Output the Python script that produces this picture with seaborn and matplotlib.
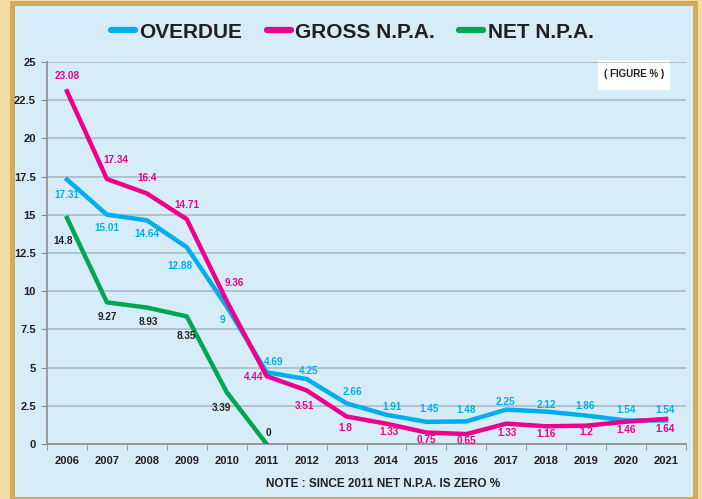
import matplotlib
matplotlib.use("Agg")
import matplotlib.pyplot as plt
from matplotlib.patches import Rectangle
from matplotlib.ticker import FixedLocator
from matplotlib.lines import Line2D
import seaborn as sns
import pandas as pd

years = ["2006", "2007", "2008", "2009", "2010", "2011", "2012", "2013", "2014",
         "2015", "2016", "2017", "2018", "2019", "2020", "2021"]
overdue = [17.31, 15.01, 14.64, 12.88, 9, 4.69, 4.25, 2.66, 1.91, 1.45, 1.48,
           2.25, 2.12, 1.86, 1.54, 1.54]
gross_npa = [23.08, 17.34, 16.4, 14.71, 9.36, 4.44, 3.51, 1.8, 1.33, 0.75, 0.65,
             1.33, 1.16, 1.2, 1.46, 1.64]
net_years = ["2006", "2007", "2008", "2009", "2010", "2011"]
net_npa = [14.8, 9.27, 8.93, 8.35, 3.39, 0]
series_names = ["OVERDUE", "GROSS N.P.A.", "NET N.P.A."]
y_ticks = [0, 2.5, 5, 7.5, 10, 12.5, 15, 17.5, 20, 22.5, 25]
note_text = "NOTE : SINCE 2011 NET N.P.A. IS ZERO %"
box_text = "( FIGURE % )"

# label offsets in pixels (dx, dy), dy positive = up
off_overdue = [(0, -15), (0, -13), (0, -14), (-7, -19), (-4, -14), (7, 10), (2, 8),
               (6, 11), (6, 8), (3, 13), (0, 11), (-1, 8), (0, 7), (-1, 10), (0, 10), (-1, 10)]
off_gross = [(0, 15), (9, 19), (0, 15), (0, 14), (8, 18), (-13, -1), (-2, -16),
             (-1, -12), (3, -8), (0, -7), (0, -7), (1, -9), (0, -8), (0, -6), (0, -8), (-1, -10)]
off_net = [(-4, -23), (0, -15), (1, -14), (0, -20), (-5, -16), (2, 11)]

c_over = "#00aeef"
c_gross = "#ec008c"
c_net = "#00a651"
c_netlbl = "#231f20"
FAM = ['Liberation Sans Narrow', 'Liberation Sans', 'DejaVu Sans']

plt.rcParams['font.family'] = FAM
plt.rcParams['font.weight'] = 'bold'

df = pd.concat([
    pd.DataFrame({"year": years, "value": overdue, "series": series_names[0]}),
    pd.DataFrame({"year": years, "value": gross_npa, "series": series_names[1]}),
    pd.DataFrame({"year": net_years, "value": net_npa, "series": series_names[2]}),
])
df["x"] = df["year"].map({y: i for i, y in enumerate(years)})

W, H = 702, 499
fig = plt.figure(figsize=(W / 100, H / 100), dpi=100)
fig.patch.set_facecolor("#f2dca6")

bg = fig.add_axes([0, 0, 1, 1], zorder=-5)
bg.set_xlim(0, W)
bg.set_ylim(H, 0)
bg.axis("off")
bg.add_patch(Rectangle((10, 1), 688, 498, facecolor="#d6a95c", edgecolor="none"))
bg.add_patch(Rectangle((15, 6), 678, 491, facecolor="#d6edf9", edgecolor="none"))
bg.add_patch(Rectangle((598, 60), 72, 30, facecolor="white", edgecolor="none", zorder=3))

ax = fig.add_axes([47 / W, 1 - 444 / H, 639 / W, 382 / H], zorder=1)
ax.set_facecolor("none")
sns.lineplot(data=df, x="x", y="value", hue="series", hue_order=series_names,
             palette=[c_over, c_gross, c_net], linewidth=3.2, ax=ax, legend=False,
             sort=False, zorder=3)

ax.set_xlim(-0.5, len(years) - 0.5)
ax.set_ylim(0, 25)
ax.set_xticks(range(len(years)))
ax.set_xticklabels(years, fontsize=8, fontweight="bold", color="#231f20")
ax.tick_params(axis="x", which="major", length=0, pad=9)
ax.xaxis.set_minor_locator(FixedLocator([i - 0.5 for i in range(len(years) + 1)]))
ax.tick_params(axis="x", which="minor", length=4, color="#8c8c8c", direction="out")
ax.set_yticks(y_ticks)
ax.set_yticklabels([f"{t:g}" for t in y_ticks], fontsize=8, fontweight="bold", color="#231f20")
ax.tick_params(axis="y", length=4, color="#8c8c8c", pad=4)
ax.grid(axis="y", color="#a7b6c0", linewidth=1.1, zorder=1)
ax.set_axisbelow(True)
for s in ["top", "right"]:
    ax.spines[s].set_visible(False)
for s in ["left", "bottom"]:
    ax.spines[s].set_color("#8c8c8c")
    ax.spines[s].set_linewidth(1.2)
ax.set_xlabel("")
ax.set_ylabel("")


def label(vals, offs, color):
    for i, (v, o) in enumerate(zip(vals, offs)):
        ax.annotate(f"{v:g}", (i, v), xytext=o, textcoords="offset pixels",
                    ha="center", va="center", fontsize=7.2, fontweight="bold",
                    color=color, zorder=5)


label(overdue, off_overdue, c_over)
label(gross_npa, off_gross, c_gross)
label(net_npa, off_net, c_netlbl)

handles = [Line2D([], [], color=c, linewidth=4.5, solid_capstyle="round") for c in [c_over, c_gross, c_net]]
leg = fig.legend(handles, series_names, loc="center", bbox_to_anchor=(352 / W, 1 - 32 / H),
                 ncol=3, frameon=False, handlelength=1.15, handletextpad=0.2,
                 columnspacing=1.2, prop={"size": 15, "weight": "bold", "family": FAM})
for t in leg.get_texts():
    t.set_color("#231f20")

fig.text(383 / W, 1 - 484 / H, note_text, ha="center", va="center", fontsize=8.5,
         fontweight="bold", color="#231f20")
fig.text(634 / W, 1 - 74 / H, box_text, ha="center", va="center", fontsize=7,
         fontweight="bold", color="#231f20", zorder=3)

fig.savefig("out.png", dpi=100, facecolor=fig.get_facecolor())
